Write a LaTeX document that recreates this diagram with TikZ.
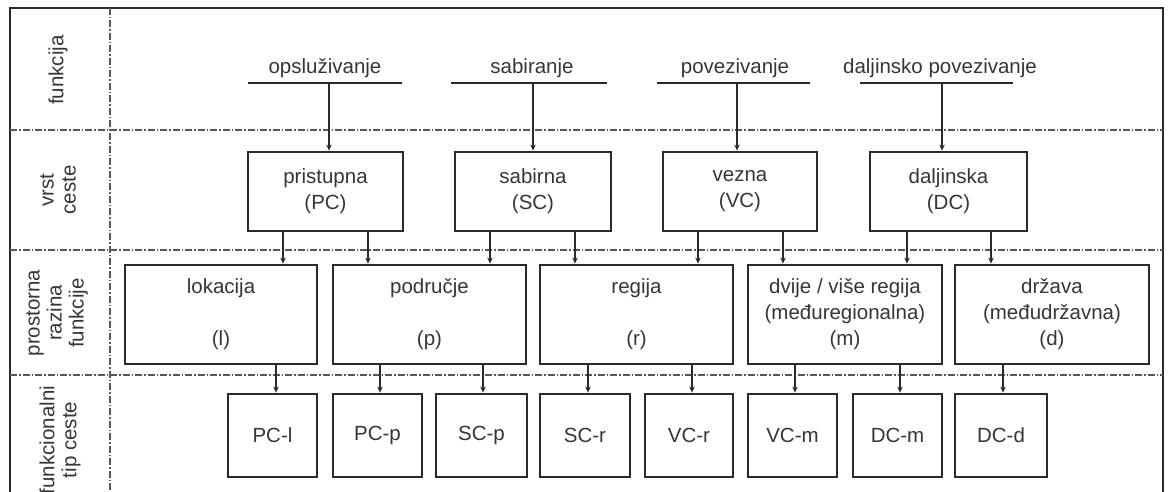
\documentclass[tikz,border=0pt]{standalone}
\usepackage{fontspec}
\setmainfont{Liberation Sans}
\usetikzlibrary{arrows.meta}
\definecolor{txt}{HTML}{363636}
\definecolor{ln}{HTML}{2A2A2A}
\definecolor{dd}{HTML}{585858}
\tikzset{
  box/.style={draw=ln, line width=2.8pt, minimum height=#1, inner sep=0pt, align=center, text=txt, font=\fontsize{20.5}{26}\selectfont},
  lbl/.style={text=txt, font=\fontsize{20.5}{22}\selectfont, inner sep=0pt, align=center},
  sidelbl/.style={text=txt, font=\fontsize{20.5}{22}\selectfont, inner sep=0pt, align=center, rotate=90},
  arr/.style={draw=ln, line width=1.3pt, -{Stealth[length=6pt,width=5.5pt]}},
  bar/.style={draw=ln, line width=2.4pt},
  dashdot/.style={draw=dd, line width=1.3pt, dash pattern=on 7pt off 2pt on 1.5pt off 2pt},
  frame/.style={draw=ln, line width=2.5pt}
}
\begin{document}
\begin{tikzpicture}[x=1pt,y=-1pt]
\useasboundingbox (0,0) rectangle (1172,492);
\fill[white] (0,0) rectangle (1172,492);
% frame
\draw[frame] (10,495) -- (10,8) -- (1163,8) -- (1163,495);
% grid
\draw[dashdot] (110,8) -- (110,495);
\draw[dashdot] (10,130) -- (1163,130);
\draw[dashdot] (10,250) -- (1163,250);
\draw[dashdot] (10,375) -- (1163,375);
% side labels
\node[sidelbl] (s1) at (58,70) {funkcija};
\node[sidelbl] (s2) at (58,190) {vrst\\ceste};
\node[sidelbl] (s3) at (57,313) {prostorna\\razina\\funkcije};
\node[sidelbl] (s4) at (60,440) {funkcionalni\\tip ceste};
% function labels
\node[lbl] (f1) at (325,68) {opsluživanje};
\node[lbl] (f2) at (532,68) {sabiranje};
\node[lbl] (f3) at (735,68) {povezivanje};
\node[lbl] (f4) at (940,68) {daljinsko povezivanje};
\draw[bar] (248,83) coordinate (b1a) -- (402,83) coordinate (b1b);
\draw[bar] (451,83) coordinate (b2a) -- (607,83) coordinate (b2b);
\draw[bar] (657,83) coordinate (b3a) -- (810,83) coordinate (b3b);
\draw[bar] (860,83) coordinate (b4a) -- (1013,83) coordinate (b4b);
% road type boxes
\node[box=79pt, minimum width=155pt] (pc) at (325.5,191.5) {pristupna\\(PC)};
\node[box=79pt, minimum width=156pt] (sc) at (533,191.5) {sabirna\\(SC)};
\node[box=79pt, minimum width=154pt] (vc) at (740,191.5) {vezna\\(VC)};
\node[box=79pt, minimum width=157pt] (dc) at (948.5,191.5) {daljinska\\(DC)};
% spatial level boxes
\node[box=99pt, minimum width=192pt] (lo) at (221,314.5) {lokacija\\[26pt](l)};
\node[box=99pt, minimum width=193pt] (po) at (429.5,314.5) {područje\\[26pt](p)};
\node[box=99pt, minimum width=193pt] (re) at (636.5,314.5) {regija\\[26pt](r)};
\node[box=99pt, minimum width=194pt] (dv) at (845,314.5) {dvije / više regija\\(međuregionalna)\\(m)};
\node[box=99pt, minimum width=194pt] (dr) at (1052,314.5) {država\\(međudržavna)\\(d)};
% functional type boxes
\node[box=83pt, minimum width=89pt] (t1) at (272.5,435.5) {PC-l};
\node[box=83pt, minimum width=89pt] (t2) at (377.5,435.5) {PC-p};
\node[box=83pt, minimum width=91pt] (t3) at (481.5,435.5) {SC-p};
\node[box=83pt, minimum width=90pt] (t4) at (585,435.5) {SC-r};
\node[box=83pt, minimum width=88pt] (t5) at (689,435.5) {VC-r};
\node[box=83pt, minimum width=89pt] (t6) at (792.5,435.5) {VC-m};
\node[box=83pt, minimum width=89pt] (t7) at (897.5,435.5) {DC-m};
\node[box=83pt, minimum width=92pt] (t8) at (1001,435.5) {DC-d};
% arrows function -> road type
\draw[arr] (b1a -| 329,0) -- (pc.north -| 329,0);
\draw[arr] (b2a -| 533,0) -- (sc.north -| 533,0);
\draw[arr] (b3a -| 737,0) -- (vc.north -| 737,0);
\draw[arr] (b4a -| 942,0) -- (dc.north -| 942,0);
% road type -> spatial level
\draw[arr] (pc.south -| 283,0) -- (lo.north -| 283,0);
\draw[arr] (pc.south -| 368,0) -- (po.north -| 368,0);
\draw[arr] (sc.south -| 490,0) -- (po.north -| 490,0);
\draw[arr] (sc.south -| 575,0) -- (re.north -| 575,0);
\draw[arr] (vc.south -| 698,0) -- (re.north -| 698,0);
\draw[arr] (vc.south -| 783,0) -- (dv.north -| 783,0);
\draw[arr] (dc.south -| 907,0) -- (dv.north -| 907,0);
\draw[arr] (dc.south -| 991,0) -- (dr.north -| 991,0);
% spatial level -> functional type
\draw[arr] (lo.south -| 276,0) -- (t1.north -| 276,0);
\draw[arr] (po.south -| 380,0) -- (t2.north -| 380,0);
\draw[arr] (po.south -| 483,0) -- (t3.north -| 483,0);
\draw[arr] (re.south -| 588,0) -- (t4.north -| 588,0);
\draw[arr] (re.south -| 692,0) -- (t5.north -| 692,0);
\draw[arr] (dv.south -| 795,0) -- (t6.north -| 795,0);
\draw[arr] (dv.south -| 900,0) -- (t7.north -| 900,0);
\draw[arr] (dr.south -| 1003,0) -- (t8.north -| 1003,0);
\end{tikzpicture}
\end{document}
